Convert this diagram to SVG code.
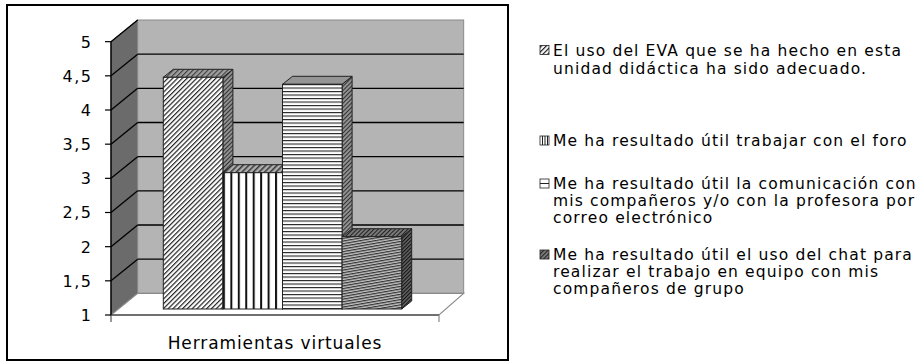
<svg xmlns="http://www.w3.org/2000/svg" width="922" height="364" viewBox="0 0 922 364">
<defs>
<style>
.lbl{font-family:"DejaVu Sans",Verdana,sans-serif;font-size:16px;fill:#000;letter-spacing:1.5px;text-anchor:end}
.ttl{font-family:"DejaVu Sans",Verdana,sans-serif;font-size:17px;fill:#000;letter-spacing:0.9px;text-anchor:middle}
.leg{font-family:"DejaVu Sans",Verdana,sans-serif;font-size:15.5px;fill:#000;letter-spacing:1.15px}
.grid{stroke:#000;stroke-width:1.3;fill:none}
.out{stroke:#222;stroke-width:1}
.icon{stroke:#222;stroke-width:0.8}
</style>
<pattern id="p1f" width="3.4" height="3.4" patternUnits="userSpaceOnUse" patternTransform="rotate(45)">
<rect width="3.4" height="3.4" fill="#fff"/><line x1="0.6" y1="0" x2="0.6" y2="3.4" stroke="#222" stroke-width="1.2"/>
</pattern>
<pattern id="p1s" width="3" height="3" patternUnits="userSpaceOnUse" patternTransform="rotate(45)">
<rect width="3" height="3" fill="#909090"/><line x1="0.5" y1="0" x2="0.5" y2="3" stroke="#333" stroke-width="1"/>
</pattern>
<pattern id="p1t" width="3.5" height="3.5" patternUnits="userSpaceOnUse" patternTransform="rotate(45)">
<rect width="3.5" height="3.5" fill="#a0a0a0"/><line x1="0.6" y1="0" x2="0.6" y2="3.5" stroke="#3a3a3a" stroke-width="1.1"/>
</pattern>
<pattern id="p2f" x="222.9" width="7.45" height="10" patternUnits="userSpaceOnUse">
<rect width="7.45" height="10" fill="#fff"/><rect x="0" y="0" width="2" height="10" fill="#111"/>
</pattern>
<pattern id="p2t" width="4" height="4" patternUnits="userSpaceOnUse" patternTransform="rotate(45)">
<rect width="4" height="4" fill="#b0b0b0"/><line x1="0.8" y1="0" x2="0.8" y2="4" stroke="#333" stroke-width="1.5"/>
</pattern>
<pattern id="p3f" width="10" height="3.5" patternUnits="userSpaceOnUse">
<rect width="10" height="3.5" fill="#fff"/><rect x="0" y="0" width="10" height="1.1" fill="#222"/>
</pattern>
<pattern id="p4f" width="2.6" height="2.6" patternUnits="userSpaceOnUse" patternTransform="rotate(-10)">
<rect width="2.6" height="2.6" fill="#c4c4c4"/><rect x="0" y="0" width="2.6" height="1.2" fill="#333"/>
</pattern>
<pattern id="p4s" width="2.6" height="2.6" patternUnits="userSpaceOnUse" patternTransform="rotate(45)">
<rect width="2.6" height="2.6" fill="#606060"/><line x1="0.5" y1="0" x2="0.5" y2="2.6" stroke="#111" stroke-width="1"/>
</pattern>
<pattern id="p4t" width="3" height="3" patternUnits="userSpaceOnUse" patternTransform="rotate(45)">
<rect width="3" height="3" fill="#787878"/><line x1="0.5" y1="0" x2="0.5" y2="3" stroke="#222" stroke-width="1"/>
</pattern>
</defs>

<g id="chart-frame">
<rect x="7" y="5" width="501" height="355" fill="#fff" stroke="#000" stroke-width="2"/>
</g>

<g id="walls">
<polygon id="side-wall" points="111,41.67 137.67,20 137.67,293.33 111,315" fill="#6b6b6b" stroke="#444" stroke-width="1"/>
<rect id="back-wall" x="137.67" y="20" width="326" height="273.33" fill="#b4b4b4" stroke="#8a8a8a" stroke-width="1"/>
<g class="grid">
<line x1="137.67" y1="54.17" x2="463.67" y2="54.17"/>
<line x1="137.67" y1="88.33" x2="463.67" y2="88.33"/>
<line x1="137.67" y1="122.5" x2="463.67" y2="122.5"/>
<line x1="137.67" y1="156.67" x2="463.67" y2="156.67"/>
<line x1="137.67" y1="190.83" x2="463.67" y2="190.83"/>
<line x1="137.67" y1="225" x2="463.67" y2="225"/>
<line x1="137.67" y1="259.17" x2="463.67" y2="259.17"/>
<line x1="111" y1="41.67" x2="137.67" y2="20"/>
<line x1="111" y1="75.83" x2="137.67" y2="54.17"/>
<line x1="111" y1="110" x2="137.67" y2="88.33"/>
<line x1="111" y1="144.17" x2="137.67" y2="122.5"/>
<line x1="111" y1="178.33" x2="137.67" y2="156.67"/>
<line x1="111" y1="212.5" x2="137.67" y2="190.83"/>
<line x1="111" y1="246.67" x2="137.67" y2="225"/>
<line x1="111" y1="280.83" x2="137.67" y2="259.17"/>
</g>
<polygon id="floor" points="111,315 137.67,293.33 463.67,293.33 439,315" fill="#fff" stroke="#8a8a8a" stroke-width="1.2"/>
</g>

<g id="axis">
<line x1="111" y1="315" x2="439" y2="315" stroke="#555" stroke-width="1.3"/>
<line x1="111" y1="315" x2="111" y2="322" stroke="#555" stroke-width="1.2"/>
<line x1="439" y1="315" x2="439" y2="322" stroke="#888" stroke-width="1.2"/>
<line x1="111" y1="41.67" x2="111" y2="315" stroke="#000" stroke-width="1.3"/>
<g stroke="#000" stroke-width="1.2">
<line x1="105" y1="41.67" x2="111" y2="41.67"/>
<line x1="105" y1="75.83" x2="111" y2="75.83"/>
<line x1="105" y1="110" x2="111" y2="110"/>
<line x1="105" y1="144.17" x2="111" y2="144.17"/>
<line x1="105" y1="178.33" x2="111" y2="178.33"/>
<line x1="105" y1="212.5" x2="111" y2="212.5"/>
<line x1="105" y1="246.67" x2="111" y2="246.67"/>
<line x1="105" y1="280.83" x2="111" y2="280.83"/>
<line x1="105" y1="315" x2="111" y2="315"/>
</g>
<text class="lbl" x="92.5" y="47.5">5</text>
<text class="lbl" x="92.5" y="81.6">4,5</text>
<text class="lbl" x="92.5" y="115.8">4</text>
<text class="lbl" x="92.5" y="150">3,5</text>
<text class="lbl" x="92.5" y="184.1">3</text>
<text class="lbl" x="92.5" y="218.3">2,5</text>
<text class="lbl" x="92.5" y="252.5">2</text>
<text class="lbl" x="92.5" y="286.6">1,5</text>
<text class="lbl" x="92.5" y="320.8">1</text>
<text class="ttl" x="275" y="348.5">Herramientas virtuales</text>
</g>

<g id="bar-1">
<polygon class="out" points="222.9,77.3 232.9,69.3 232.9,301 222.9,309" fill="url(#p1s)"/>
<polygon class="out" points="163.3,77.3 173.3,69.3 232.9,69.3 222.9,77.3" fill="url(#p1t)"/>
<rect class="out" x="163.3" y="77.3" width="59.6" height="231.7" fill="url(#p1f)"/>
</g>
<g id="bar-2">
<polygon class="out" points="282.5,172.7 292.5,164.7 292.5,301 282.5,309" fill="url(#p1s)"/>
<polygon class="out" points="222.9,172.7 232.9,164.7 292.5,164.7 282.5,172.7" fill="url(#p2t)"/>
<rect class="out" x="222.9" y="172.7" width="59.6" height="136.3" fill="url(#p2f)"/>
</g>
<g id="bar-3">
<polygon class="out" points="342.1,84.3 352.1,76.3 352.1,301 342.1,309" fill="url(#p1s)"/>
<polygon class="out" points="282.5,84.3 292.5,76.3 352.1,76.3 342.1,84.3" fill="#959595"/>
<rect class="out" x="282.5" y="84.3" width="59.6" height="224.7" fill="url(#p3f)"/>
</g>
<g id="bar-4">
<polygon class="out" points="401.7,236.7 411.7,228.7 411.7,301 401.7,309" fill="url(#p4s)"/>
<polygon class="out" points="342.1,236.7 352.1,228.7 411.7,228.7 401.7,236.7" fill="url(#p4t)"/>
<rect class="out" x="342.1" y="236.7" width="59.6" height="72.3" fill="url(#p4f)"/>
</g>

<g id="legend">
<g id="legend-1">
<rect class="icon" x="540" y="45.5" width="9" height="9" fill="url(#p1f)"/>
<text class="leg" x="553" y="55.5">El uso del EVA que se ha hecho en esta</text>
<text class="leg" x="553" y="73.5">unidad didáctica ha sido adecuado.</text>
</g>
<g id="legend-2">
<rect class="icon" x="540" y="136" width="9" height="9" fill="#fff"/>
<path d="M542.5 136v9M545 136v9M547.5 136v9" stroke="#222" stroke-width="1"/>
<text class="leg" x="553" y="145.5">Me ha resultado útil trabajar con el foro</text>
</g>
<g id="legend-3">
<rect class="icon" x="540" y="179" width="9" height="9" fill="#fff"/>
<path d="M540 183.5h9" stroke="#222" stroke-width="1"/>
<text class="leg" x="553" y="188.5">Me ha resultado útil la comunicación con</text>
<text class="leg" x="553" y="205.5">mis compañeros y/o con la profesora por</text>
<text class="leg" x="553" y="222.5">correo electrónico</text>
</g>
<g id="legend-4">
<rect class="icon" x="540" y="250" width="9" height="9" fill="url(#p4t)"/>
<text class="leg" x="553" y="259.5">Me ha resultado útil el uso del chat para</text>
<text class="leg" x="553" y="276.5">realizar el trabajo en equipo con mis</text>
<text class="leg" x="553" y="294">compañeros de grupo</text>
</g>
</g>
</svg>
